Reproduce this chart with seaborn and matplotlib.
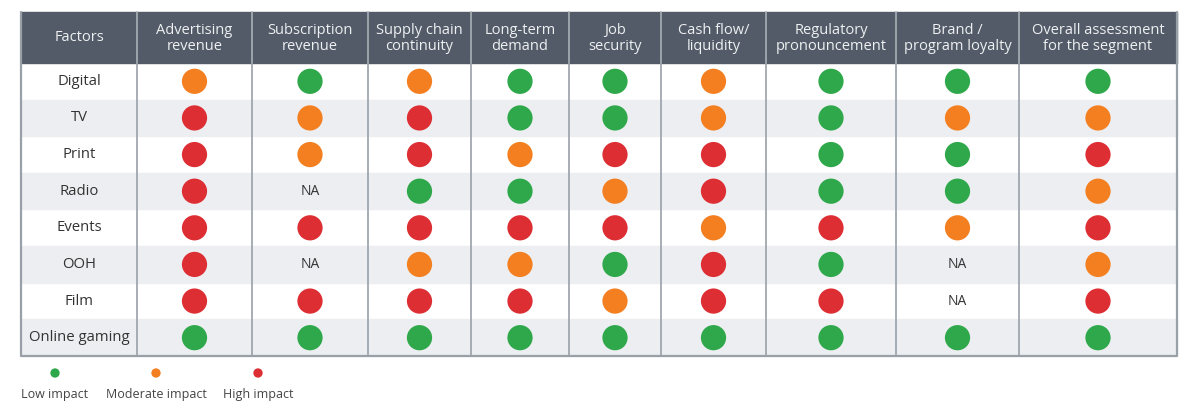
import matplotlib
matplotlib.use("Agg")
import matplotlib.pyplot as plt
from matplotlib.patches import Rectangle
import seaborn as sns
import pandas as pd

FACTORS = ["Digital", "TV", "Print", "Radio", "Events", "OOH", "Film", "Online gaming"]
COLUMNS = ["Advertising\nrevenue", "Subscription\nrevenue", "Supply chain\ncontinuity",
           "Long-term\ndemand", "Job\nsecurity", "Cash flow/\nliquidity",
           "Regulatory\npronouncement", "Brand /\nprogram loyalty",
           "Overall assessment\nfor the segment"]

# L = low, M = moderate, H = high impact, NA = not applicable
digital = ["M", "L", "M", "L", "L", "M", "L", "L", "L"]
tv = ["H", "M", "H", "L", "L", "M", "L", "M", "M"]
print_ = ["H", "M", "H", "M", "H", "H", "L", "L", "H"]
radio = ["H", "NA", "L", "L", "M", "H", "L", "L", "M"]
events = ["H", "H", "H", "H", "H", "M", "H", "M", "H"]
ooh = ["H", "NA", "M", "M", "L", "H", "L", "NA", "M"]
film = ["H", "H", "H", "H", "M", "H", "H", "NA", "H"]
online_gaming = ["L", "L", "L", "L", "L", "L", "L", "L", "L"]
ROWS = [digital, tv, print_, radio, events, ooh, film, online_gaming]

LEGEND = ["Low impact", "Moderate impact", "High impact"]
PALETTE = {"L": "#2ea84a", "M": "#f47f20", "H": "#dd2e34"}

HEADER_BG = "#525b67"
STRIPE = "#eceef1"
GRID = "#9aa0a8"
TEXT = "#333333"

# layout in pixels
COL_EDGES = [21, 137, 252, 368, 471, 569, 661, 766, 896, 1019, 1177]
TOP, HEAD_BOTTOM, BOTTOM = 12, 63, 356
row_h = (BOTTOM - HEAD_BOTTOM) / len(FACTORS)

sns.set_theme(style="white")
plt.rcParams["font.family"] = ["Open Sans", "DejaVu Sans"]

fig = plt.figure(figsize=(11.99, 4.15), dpi=100)
ax = fig.add_axes([0, 0, 1, 1])
ax.set_xlim(0, 1199)
ax.set_ylim(415, 0)
ax.axis("off")

# header and stripes
ax.add_patch(Rectangle((COL_EDGES[0], TOP), COL_EDGES[-1] - COL_EDGES[0], HEAD_BOTTOM - TOP,
                       color=HEADER_BG, zorder=0))
for i in range(len(FACTORS)):
    if i % 2 == 1:
        ax.add_patch(Rectangle((COL_EDGES[0], HEAD_BOTTOM + i * row_h),
                               COL_EDGES[-1] - COL_EDGES[0], row_h, color=STRIPE, zorder=0))

for x in COL_EDGES[1:-1]:
    ax.plot([x, x], [TOP, HEAD_BOTTOM], color="#a3a9b1", lw=1.3, zorder=1)
    ax.plot([x, x], [HEAD_BOTTOM, BOTTOM], color=GRID, lw=1.2, zorder=1)
ax.plot([COL_EDGES[0], COL_EDGES[0], COL_EDGES[-1], COL_EDGES[-1]],
        [TOP, BOTTOM, BOTTOM, TOP], color=GRID, lw=1.6, zorder=2)

centers = [(a + b) / 2 for a, b in zip(COL_EDGES[:-1], COL_EDGES[1:])]
head_y = (TOP + HEAD_BOTTOM) / 2
ax.text(centers[0], head_y, "Factors", ha="center", va="center", color="#eef0f2", fontsize=10.5)
for c, name in zip(centers[1:], COLUMNS):
    ax.text(c, head_y + 1, name, ha="center", va="center", color="#eef0f2",
            fontsize=10.5, linespacing=1.05)

recs = []
for i, (factor, vals) in enumerate(zip(FACTORS, ROWS)):
    y = HEAD_BOTTOM + (i + 0.5) * row_h
    ax.text(centers[0], y, factor, ha="center", va="center", color=TEXT, fontsize=10.7)
    for j, v in enumerate(vals):
        if v == "NA":
            ax.text(centers[j + 1], y, "NA", ha="center", va="center", color=TEXT, fontsize=10)
        else:
            recs.append({"x": centers[j + 1], "y": y, "impact": v})
df = pd.DataFrame(recs)
sns.scatterplot(data=df, x="x", y="y", hue="impact", palette=PALETTE, s=330,
                linewidth=0, legend=False, ax=ax, zorder=3)

# legend
leg_x = [55, 156, 258]
leg = pd.DataFrame({"x": leg_x, "y": [373] * 3, "impact": ["L", "M", "H"]})
sns.scatterplot(data=leg, x="x", y="y", hue="impact", palette=PALETTE, s=45,
                linewidth=0, legend=False, ax=ax, zorder=3)
for x, lab in zip(leg_x, LEGEND):
    ax.text(x, 394, lab, ha="center", va="center", color="#444444", fontsize=9)

ax.set_xlim(0, 1199)
ax.set_ylim(415, 0)
fig.savefig("out.png", dpi=100)
